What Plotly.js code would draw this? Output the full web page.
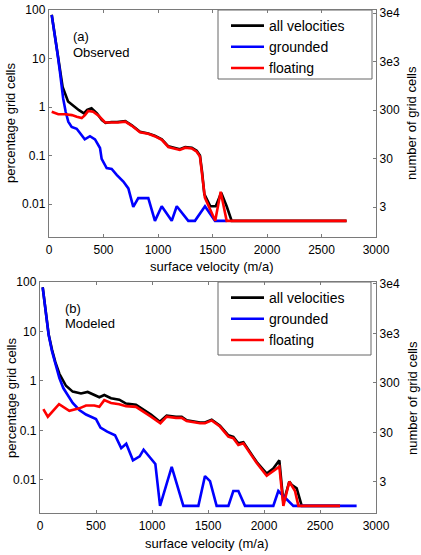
<!DOCTYPE html>
<html>
<head>
<meta charset="utf-8">
<script src="https://cdn.plot.ly/plotly-3.0.1.min.js"></script>
<style>
  html, body { margin: 0; padding: 0; background: #fff; }
  #chart { width: 421px; height: 555px; }
</style>
</head>
<body>
<div id="chart"></div>
<script>
// (a) Observed: share of grid cells per surface-velocity bin (percent)
const obsAllVel = [25, 75, 125, 175, 225, 275, 320, 350, 390, 440, 485, 520, 575, 625, 700, 760, 835, 910, 970, 1035, 1095, 1155, 1200, 1250, 1310, 1355, 1385, 1405, 1425, 1480, 1530, 1580, 1630, 1676, 2730];
const obsAllPct = [80, 14.5, 2.6, 1.3, 1.05, 0.86, 0.74, 0.87, 0.94, 0.74, 0.54, 0.47, 0.49, 0.49, 0.51, 0.42, 0.31, 0.285, 0.255, 0.215, 0.155, 0.145, 0.135, 0.15, 0.145, 0.125, 0.1, 0.045, 0.016, 0.009, 0.009, 0.017, 0.009, 0.0045, 0.0045];

const obsGroundedVel = [25, 55, 80, 100, 115, 130, 153, 177, 208, 254, 284, 328, 376, 422, 468, 483, 529, 575, 621, 682, 728, 773, 819, 911, 972, 1034, 1126, 1172, 1278, 1339, 1431, 1523, 1630];
const obsGroundedPct = [79, 30, 11.7, 5.4, 2.8, 1.5, 0.8, 0.5, 0.39, 0.355, 0.29, 0.215, 0.25, 0.215, 0.143, 0.085, 0.055, 0.053, 0.04, 0.029, 0.021, 0.0087, 0.0132, 0.0132, 0.0045, 0.009, 0.0045, 0.009, 0.0045, 0.0045, 0.009, 0.0045, 0.0045];

const obsFloatingVel = [25, 85, 150, 210, 255, 300, 330, 360, 405, 455, 515, 575, 635, 700, 760, 835, 910, 970, 1035, 1095, 1155, 1200, 1250, 1310, 1355, 1385, 1405, 1430, 1525, 1575, 1630, 2730];
const obsFloatingPct = [0.8, 0.71, 0.71, 0.68, 0.63, 0.59, 0.68, 0.83, 0.8, 0.66, 0.48, 0.48, 0.48, 0.5, 0.41, 0.3, 0.28, 0.25, 0.21, 0.15, 0.14, 0.13, 0.145, 0.14, 0.12, 0.095, 0.04, 0.0136, 0.0045, 0.018, 0.0045, 0.0045];

// (b) Modeled
const modAllVel = [24, 54, 77, 107, 137, 173, 232, 292, 366, 426, 485, 530, 574, 634, 708, 768, 857, 917, 991, 1070, 1131, 1214, 1265, 1310, 1429, 1473, 1533, 1607, 1682, 1726, 1771, 1816, 1875, 1935, 2024, 2083, 2137, 2173, 2226, 2247, 2292, 2337, 2679];
const modAllPct = [78.3, 25.8, 8.8, 4.3, 2.4, 1.4, 0.8, 0.61, 0.56, 0.6, 0.52, 0.47, 0.52, 0.45, 0.42, 0.35, 0.33, 0.27, 0.21, 0.15, 0.2, 0.19, 0.19, 0.16, 0.145, 0.145, 0.165, 0.125, 0.08, 0.074, 0.055, 0.058, 0.037, 0.023, 0.0135, 0.017, 0.025, 0.0035, 0.0093, 0.008, 0.0068, 0.003, 0.003];

const modGroundedVel = [24, 54, 77, 107, 137, 173, 208, 247, 292, 351, 411, 500, 540, 600, 670, 725, 770, 830, 890, 925, 1030, 1072, 1176, 1280, 1414, 1473, 1518, 1577, 1682, 1726, 1771, 1830, 2083, 2128, 2262, 2827];
const modGroundedPct = [78, 25.6, 8.6, 4.0, 2.14, 1.15, 0.72, 0.53, 0.36, 0.26, 0.21, 0.17, 0.115, 0.095, 0.08, 0.044, 0.054, 0.025, 0.03, 0.041, 0.021, 0.003, 0.0185, 0.003, 0.003, 0.012, 0.0095, 0.003, 0.003, 0.006, 0.006, 0.003, 0.003, 0.006, 0.003, 0.003];

const modFloatingVel = [30, 70, 170, 262, 351, 411, 485, 530, 574, 634, 708, 768, 857, 917, 991, 1075, 1131, 1214, 1265, 1310, 1429, 1473, 1533, 1607, 1682, 1726, 1771, 1816, 1875, 1935, 2024, 2083, 2137, 2173, 2226, 2277, 2307, 2679];
const modFloatingPct = [0.27, 0.19, 0.34, 0.25, 0.28, 0.32, 0.32, 0.3, 0.41, 0.36, 0.34, 0.31, 0.3, 0.24, 0.19, 0.14, 0.19, 0.18, 0.18, 0.155, 0.14, 0.14, 0.16, 0.12, 0.075, 0.07, 0.051, 0.055, 0.035, 0.022, 0.0122, 0.0155, 0.0186, 0.003, 0.0093, 0.006, 0.003, 0.003];

// Axis ticks
const velocityTicks = [0, 500, 1000, 1500, 2000, 2500, 3000];
const percentTicks = [0.01, 0.1, 1, 10, 100];
const percentTickText = ['0.01', '0.1', '1', '10', '100'];
const countTicks = [3, 30, 300, 3000, 30000];
const countTickText = ['3', '30', '300', '3e3', '3e4'];

const seriesNames = ['all velocities', 'grounded', 'floating'];
const seriesColors = ['#000000', '#0000ff', '#ff0000'];

const FONT = 'Liberation Sans, Arial, Helvetica, sans-serif';
const AXIS_GREY = '#7a7a7a';
const W = 421, H = 555;
const px = x => x / W;
const py = y => 1 - y / H;

function line(xs, ys, idx, xa, ya, legendId) {
  return {
    x: xs, y: ys, xaxis: xa, yaxis: ya, type: 'scatter', mode: 'lines',
    name: seriesNames[idx], legend: legendId,
    line: { color: seriesColors[idx], width: 2.6 }
  };
}
// the cell-count axes carry no lines of their own; an empty trace keeps them drawn
function countAxisHolder(xa, ya) {
  return { x: [], y: [], xaxis: xa, yaxis: ya, type: 'scatter', mode: 'lines',
    showlegend: false, hoverinfo: 'skip' };
}

const data = [
  countAxisHolder('x', 'y2'),
  countAxisHolder('x2', 'y4'),
  line(obsAllVel, obsAllPct, 0, 'x', 'y', 'legend'),
  line(obsGroundedVel, obsGroundedPct, 1, 'x', 'y', 'legend'),
  line(obsFloatingVel, obsFloatingPct, 2, 'x', 'y', 'legend'),
  line(modAllVel, modAllPct, 0, 'x2', 'y3', 'legend2'),
  line(modGroundedVel, modGroundedPct, 1, 'x2', 'y3', 'legend2'),
  line(modFloatingVel, modFloatingPct, 2, 'x2', 'y3', 'legend2')
];

const tickFont = { family: FONT, size: 12, color: '#000' };

function xAxis(domain, anchor) {
  return {
    domain: domain, anchor: anchor, range: [0, 3000],
    tickvals: velocityTicks, ticks: 'inside', ticklen: 3, tickcolor: AXIS_GREY,
    ticklabelstandoff: 1,
    showline: true, linecolor: AXIS_GREY, linewidth: 1.2, mirror: 'ticks',
    showgrid: false, zeroline: false, tickfont: tickFont
  };
}
function pctAxis(domain, anchor, range) {
  return {
    domain: domain, anchor: anchor, type: 'log', range: range,
    tickvals: percentTicks, ticktext: percentTickText,
    ticks: 'inside', ticklen: 3, tickcolor: AXIS_GREY,
    showline: true, linecolor: AXIS_GREY, linewidth: 1.2,
    showgrid: false, zeroline: false, tickfont: tickFont
  };
}
function countAxis(over, anchor, range) {
  return {
    overlaying: over, anchor: anchor, side: 'right', type: 'log', range: range,
    tickvals: countTicks, ticktext: countTickText,
    ticks: 'inside', ticklen: 3, tickcolor: AXIS_GREY,
    showline: true, linecolor: AXIS_GREY, linewidth: 1.2,
    showgrid: false, zeroline: false, tickfont: tickFont
  };
}

const topX = [px(49), px(376)];
const botX = [px(40), px(376)];
const topY = [py(237), py(10)];
const botY = [py(513), py(282)];

function legendBox(x, y) {
  return {
    x: px(x), y: py(y), xanchor: 'left', yanchor: 'top',
    bgcolor: 'rgba(0,0,0,0)', borderwidth: 0,
    font: { family: FONT, size: 14, color: '#000' },
    itemwidth: 33, tracegroupgap: 0
  };
}

function note(text, x, y, size) {
  return { text: text, x: px(x), y: py(y), xref: 'paper', yref: 'paper',
    xanchor: 'left', yanchor: 'middle', showarrow: false,
    font: { family: FONT, size: size, color: '#000' } };
}
function axisTitle(text, x, y, angle) {
  return { text: text, x: px(x), y: py(y), xref: 'paper', yref: 'paper',
    xanchor: 'center', yanchor: 'middle', showarrow: false, textangle: angle,
    font: { family: FONT, size: 13, color: '#000' } };
}

const layout = {
  width: W, height: H,
  margin: { l: 0, r: 0, t: 0, b: 0, pad: 0 },
  paper_bgcolor: '#fff', plot_bgcolor: '#fff',
  font: { family: FONT, color: '#000' },
  xaxis: xAxis(topX, 'y'),
  yaxis: pctAxis(topY, 'x', [-2.68, 2]),
  yaxis2: countAxis('y', 'x', [-0.141, 4.539]),
  xaxis2: xAxis(botX, 'y3'),
  yaxis3: pctAxis(botY, 'x2', [-2.667, 2]),
  yaxis4: countAxis('y3', 'x2', [-0.150, 4.517]),
  legend: legendBox(226, 10),
  legend2: legendBox(226, 282),
  shapes: [
    { type: 'rect', xref: 'paper', yref: 'paper', x0: px(218), x1: px(372), y0: py(79), y1: py(10),
      line: { color: '#666', width: 1 }, fillcolor: '#fff', layer: 'below' },
    { type: 'rect', xref: 'paper', yref: 'paper', x0: px(218), x1: px(371), y0: py(355), y1: py(282),
      line: { color: '#666', width: 1 }, fillcolor: '#fff', layer: 'below' }
  ],
  annotations: [
    note('(a)', 71, 37, 13),
    note('Observed', 71, 52, 13),
    note('(b)', 63, 308, 13),
    note('Modeled', 63, 323, 13),
    axisTitle('surface velocity (m/a)', 212, 266, 0),
    axisTitle('surface velocity (m/a)', 207, 543, 0),
    axisTitle('percentage grid cells', 11, 123, -90),
    axisTitle('percentage grid cells', 11, 398, -90),
    axisTitle('number of grid cells', 412, 123, -90),
    axisTitle('number of grid cells', 412, 398, -90)
  ]
};

Plotly.newPlot('chart', data, layout, { displayModeBar: false, staticPlot: true });
</script>
</body>
</html>
